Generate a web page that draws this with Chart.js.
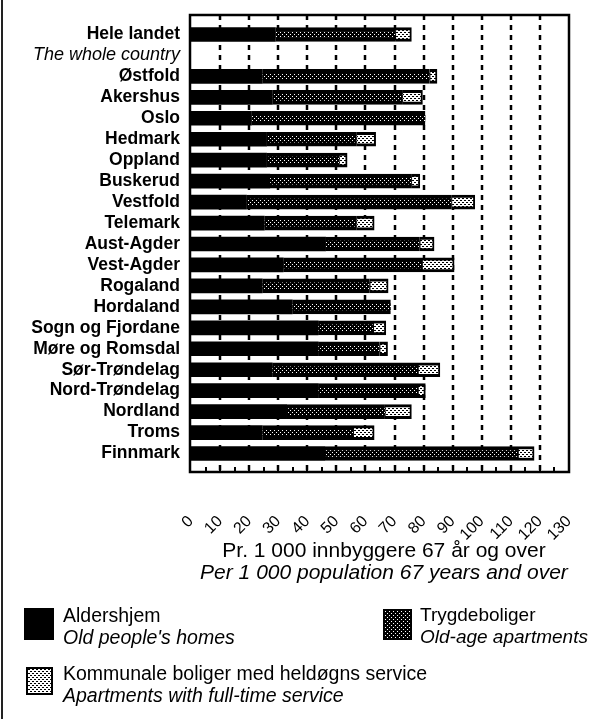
<!DOCTYPE html>
<html lang="no">
<head>
<meta charset="UTF-8">
<title>Aldershjem og boliger per 1 000 innbyggere 67 år og over</title>
<script src="https://cdn.jsdelivr.net/npm/chart.js@4.4.1/dist/chart.umd.min.js"></script>
<style>
  body { margin: 0; background: #fff; font-family: "Liberation Sans", Arial, sans-serif; color: #000; }
  #wrap { position: relative; width: 590px; height: 719px; overflow: hidden; }
  #wrap canvas { position: absolute; left: 0; top: 0; }
  .edge { position: absolute; left: 1px; top: 0; width: 2px; height: 719px; background: #222; }
  .axis-title { position: absolute; left: 184px; width: 400px; top: 539px; text-align: center; font-size: 21px; line-height: 22px; white-space: nowrap; }
  .lg { position: absolute; font-size: 19.5px; line-height: 22px; white-space: nowrap; }
  .sw { position: absolute; box-sizing: border-box; }
  i { font-style: italic; }
</style>
</head>
<body>
<div id="wrap">
  <canvas id="chart"></canvas>
  <div class="edge"></div>
  <div class="axis-title">Pr. 1 000 innbyggere 67 år og over<br><i>Per 1 000 population 67 years and over</i></div>

  <div class="sw" id="swA" style="left:24px; top:608px; width:30px; height:32px; background:#000;"></div>
  <div class="lg" style="left:63px; top:604px;">Aldershjem<br><i>Old people's homes</i></div>

  <div class="sw" id="swT" style="left:383px; top:609px; width:29px; height:31px; border:2px solid #000;"></div>
  <div class="lg" style="left:420px; top:604px; font-size:19px;">Trygdeboliger<br><i>Old-age apartments</i></div>

  <div class="sw" id="swK" style="left:26px; top:667px; width:27px; height:28px; border:2px solid #000;"></div>
  <div class="lg" style="left:63px; top:662px;">Kommunale boliger med heldøgns service<br><i>Apartments with full-time service</i></div>
</div>
<script>
// rows, top to bottom; row 1 only carries the English label of "Hele landet"
const regions = ['Hele landet', 'The whole country', 'Østfold', 'Akershus', 'Oslo', 'Hedmark', 'Oppland',
  'Buskerud', 'Vestfold', 'Telemark', 'Aust-Agder', 'Vest-Agder', 'Rogaland', 'Hordaland',
  'Sogn og Fjordane', 'Møre og Romsdal', 'Sør-Trøndelag', 'Nord-Trøndelag', 'Nordland', 'Troms', 'Finnmark'];

const aldershjem    = [29.0, null, 24.5, 28.0, 20.8, 26.0, 26.0, 27.1, 19.1, 25.2, 46.3, 31.7, 24.5, 34.8, 43.7, 43.7, 27.9, 43.7, 32.9, 24.5, 46.0];
const trygdeboliger = [41.3, null, 57.6, 44.7, 59.8, 30.9, 24.9, 48.7, 70.5, 31.7, 32.4, 47.8, 37.0, 33.9, 19.0, 21.2, 50.2, 34.4, 33.8, 31.3, 66.5];
const kommunale     = [5.5, null, 2.5, 6.9, 0, 6.6, 2.8, 2.9, 8.0, 6.1, 4.9, 11.0, 6.3, 0, 4.3, 2.7, 7.5, 2.5, 9.1, 7.2, 5.5];

const xMin = 0, xMax = 130, xStep = 10;

// small dot tiles used as fills
function makeTile(bg, fg, dots) {
  const c = document.createElement('canvas');
  c.width = 4; c.height = 4;
  const g = c.getContext('2d');
  g.fillStyle = bg; g.fillRect(0, 0, 4, 4);
  g.fillStyle = fg;
  dots.forEach(d => g.fillRect(d[0], d[1], 1, 1));
  return c;
}
const tileT = makeTile('#000', '#fff', [[0, 0], [2, 2]]);
const tileK = makeTile('#fff', '#000', [[0, 0], [2, 2], [1, 0], [3, 2]]);
const ctx = document.getElementById('chart').getContext('2d');
const patT = ctx.createPattern(tileT, 'repeat');
const patK = ctx.createPattern(tileK, 'repeat');
document.getElementById('swT').style.background = 'url(' + tileT.toDataURL() + ')';
document.getElementById('swK').style.background = 'url(' + tileK.toDataURL() + ')';

const FONT = '"Liberation Sans", Arial, sans-serif';

const framePlugin = {
  id: 'framePlugin',
  beforeDatasetsDraw(chart) {
    const { ctx, chartArea: a, scales: { x } } = chart;
    const top = a.top - 9, bottom = a.bottom + 8;
    ctx.save();
    ctx.strokeStyle = '#000';
    ctx.lineWidth = 2.5;
    ctx.setLineDash([5, 5]);
    x.ticks.forEach(t => {
      if (t.value <= xMin || t.value >= xMax) return;
      const px = Math.round(x.getPixelForValue(t.value));
      ctx.beginPath();
      ctx.moveTo(px, top);
      ctx.lineTo(px, bottom);
      ctx.stroke();
    });
    ctx.restore();
  },
  afterDatasetsDraw(chart) {
    const { ctx, chartArea: a, scales: { x } } = chart;
    const top = a.top - 9, bottom = a.bottom + 8;
    ctx.save();
    ctx.strokeStyle = '#000';
    ctx.lineWidth = 2;
    for (let v = xMin + 5; v < xMax; v += 5) {
      const px = Math.round(x.getPixelForValue(v));
      ctx.beginPath();
      ctx.moveTo(px, bottom);
      ctx.lineTo(px, bottom - 5);
      ctx.stroke();
    }
    ctx.lineWidth = 2.5;
    ctx.strokeRect(a.left - 1, top, a.right - a.left + 1, bottom - top);
    ctx.restore();
  }
};

new Chart(ctx, {
  type: 'bar',
  data: {
    labels: regions,
    datasets: [
      {
        label: 'Aldershjem',
        data: aldershjem,
        backgroundColor: '#000',
        borderWidth: 0
      },
      {
        label: 'Trygdeboliger',
        data: trygdeboliger,
        backgroundColor: patT,
        borderColor: '#000',
        borderWidth: { top: 4, bottom: 4, left: 0, right: 0 },
        borderSkipped: false
      },
      {
        label: 'Kommunale boliger med heldøgns service',
        data: kommunale,
        backgroundColor: patK,
        borderColor: '#000',
        borderWidth: { top: 3, bottom: 3, left: 1, right: 2 },
        borderSkipped: false
      }
    ]
  },
  options: {
    indexAxis: 'y',
    responsive: true,
    maintainAspectRatio: false,
    animation: false,
    barThickness: 14,
    layout: { padding: { top: 24, right: 21, left: 0, bottom: 0 } },
    plugins: {
      legend: { display: false },
      tooltip: { enabled: false }
    },
    scales: {
      x: {
        stacked: true,
        min: xMin,
        max: xMax,
        border: { display: false },
        grid: { display: false },
        afterFit: function(scale) {
          scale.height = 255;
          scale.paddingLeft = 0;
          scale.paddingRight = 0;
        },
        ticks: {
          stepSize: xStep,
          autoSkip: false,
          minRotation: 45,
          maxRotation: 45,
          padding: 40,
          color: '#000',
          font: { family: FONT, size: 16 }
        }
      },
      y: {
        stacked: true,
        border: { display: false },
        grid: { display: false, drawTicks: false },
        afterFit: function(scale) { scale.width = 191; },
        ticks: {
          padding: 11,
          color: '#000',
          autoSkip: false,
          font: function(c) {
            if (c.index === 1) return { family: FONT, size: 18, style: 'italic', weight: 'normal' };
            return { family: FONT, size: 17.5, weight: 'bold' };
          }
        }
      }
    }
  },
  plugins: [framePlugin]
});
</script>
</body>
</html>
